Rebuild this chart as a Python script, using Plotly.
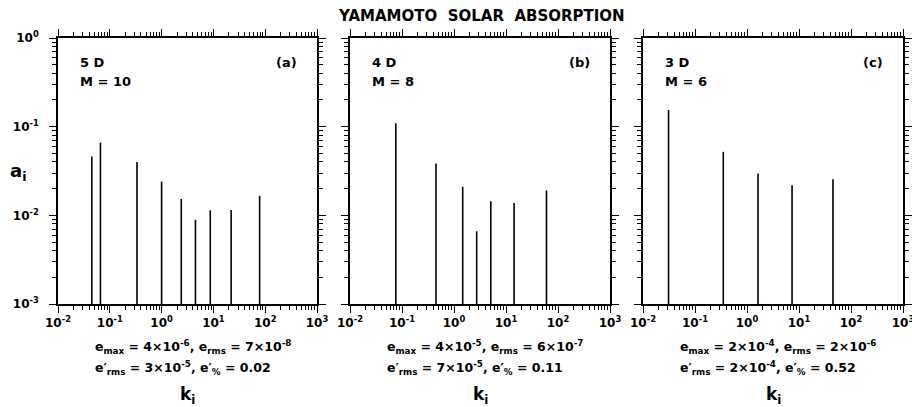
import plotly.graph_objects as go

# ---- data ----
k_a = [0.045, 0.066, 0.335, 1.0, 2.4, 4.5, 8.7, 22, 78]
a_a = [0.046, 0.066, 0.040, 0.024, 0.0153, 0.0089, 0.0114, 0.0115, 0.0166]
k_b = [0.076, 0.45, 1.47, 2.73, 5.1, 14.3, 60]
a_b = [0.109, 0.0385, 0.021, 0.0066, 0.0144, 0.0138, 0.0191]
k_c = [0.031, 0.35, 1.63, 7.35, 45]
a_c = [0.154, 0.052, 0.0297, 0.0218, 0.0255]

dims = ["5 D", "4 D", "3 D"]
m_labels = ["M = 10", "M = 8", "M = 6"]
tags = ["(a)", "(b)", "(c)"]
err_line1 = [
    "e<sub>max</sub> = 4×10<sup>-6</sup>, e<sub>rms</sub> = 7×10<sup>-8</sup>",
    "e<sub>max</sub> = 4×10<sup>-5</sup>, e<sub>rms</sub> = 6×10<sup>-7</sup>",
    "e<sub>max</sub> = 2×10<sup>-4</sup>, e<sub>rms</sub> = 2×10<sup>-6</sup>",
]
err_line2 = [
    "e′<sub>rms</sub> = 3×10<sup>-5</sup>, e′<sub>%</sub> = 0.02",
    "e′<sub>rms</sub> = 7×10<sup>-5</sup>, e′<sub>%</sub> = 0.11",
    "e′<sub>rms</sub> = 2×10<sup>-4</sup>, e′<sub>%</sub> = 0.52",
]
x_tick_vals = [1e-2, 1e-1, 1e0, 1e1, 1e2, 1e3]
x_tick_text = ["10<sup>-2</sup>", "10<sup>-1</sup>", "10<sup>0</sup>",
               "10<sup>1</sup>", "10<sup>2</sup>", "10<sup>3</sup>"]
y_tick_vals = [1e-3, 1e-2, 1e-1, 1e0]
y_tick_text = ["10<sup>-3</sup>", "10<sup>-2</sup>", "10<sup>-1</sup>", "10<sup>0</sup>"]
title_text = "YAMAMOTO  SOLAR  ABSORPTION"
y_base = 1e-3

series = [(k_a, a_a), (k_b, a_b), (k_c, a_c)]

W, H = 912, 407
x_doms = [(58, 317), (350, 610), (643, 903)]
y_top, y_bot = 38, 304

FONT = "DejaVu Sans"
fig = go.Figure()

for i, (ks, avals) in enumerate(series):
    xs, ys = [], []
    for k, a in zip(ks, avals):
        xs += [k, k, None]
        ys += [y_base, a, None]
    xa = "x" if i == 0 else f"x{i+1}"
    ya = "y" if i == 0 else f"y{i+1}"
    fig.add_trace(go.Scatter(x=xs, y=ys, mode="lines",
                             line=dict(color="black", width=1.6),
                             xaxis=xa, yaxis=ya, showlegend=False,
                             hoverinfo="skip"))
    x0, x1 = x_doms[i]
    axis_common = dict(type="log", showline=True, linecolor="black", linewidth=1.6,
                       mirror="allticks", ticks="outside", ticklen=7, tickwidth=1.3,
                       tickcolor="black", showgrid=False, zeroline=False,
                       automargin=False, ticklabeloverflow="allow",
                       minor=dict(dtick="D1", ticks="outside", ticklen=4, tickwidth=1,
                                  tickcolor="black", showgrid=False))
    xkey = "xaxis" if i == 0 else f"xaxis{i+1}"
    ykey = "yaxis" if i == 0 else f"yaxis{i+1}"
    fig.update_layout(**{
        xkey: dict(axis_common, domain=[x0 / W, x1 / W], range=[-2, 3],
                   anchor=ya, tickmode="array", tickvals=x_tick_vals,
                   ticktext=x_tick_text,
                   tickfont=dict(family=FONT, size=12, color="black", weight="bold")),
        ykey: dict(axis_common, domain=[1 - y_bot / H, 1 - y_top / H], range=[-3, 0],
                   anchor=xa, tickmode="array", tickvals=y_tick_vals,
                   ticktext=y_tick_text, showticklabels=(i == 0),
                   ticklabelstandoff=8,
                   tickfont=dict(family=FONT, size=12, color="black", weight="bold")),
    })
    cx = (x0 + x1) / 2
    txt_font = dict(family=FONT, size=13, color="black", weight="bold")
    fig.add_annotation(x=(x0 + 20) / W, y=1 - 62 / H, xref="paper", yref="paper",
                       text=dims[i], showarrow=False, xanchor="left", yanchor="middle",
                       font=txt_font)
    fig.add_annotation(x=(x0 + 20) / W, y=1 - 81 / H, xref="paper", yref="paper",
                       text=m_labels[i], showarrow=False, xanchor="left", yanchor="middle",
                       font=txt_font)
    fig.add_annotation(x=(x1 - 18) / W, y=1 - 62 / H, xref="paper", yref="paper",
                       text=tags[i], showarrow=False, xanchor="right", yanchor="middle",
                       font=txt_font)
    fig.add_annotation(x=(cx - 95) / W, y=1 - 347 / H, xref="paper", yref="paper",
                       text=err_line1[i], showarrow=False, xanchor="left", yanchor="middle",
                       font=dict(family=FONT, size=12.5, color="black", weight="bold"))
    fig.add_annotation(x=(cx - 95) / W, y=1 - 368 / H, xref="paper", yref="paper",
                       text=err_line2[i], showarrow=False, xanchor="left", yanchor="middle",
                       font=dict(family=FONT, size=12.5, color="black", weight="bold"))
    fig.add_annotation(x=cx / W, y=1 - 395 / H, xref="paper", yref="paper",
                       text="k<sub>i</sub>", showarrow=False, xanchor="center", yanchor="middle",
                       font=dict(family=FONT, size=17, color="black", weight="bold"))

fig.add_annotation(x=18 / W, y=1 - 172 / H, xref="paper", yref="paper",
                   text="a<sub>i</sub>", showarrow=False, xanchor="center", yanchor="middle",
                   font=dict(family=FONT, size=18, color="black", weight="bold"))
fig.add_annotation(x=481 / W, y=1 - 16 / H, xref="paper", yref="paper",
                   text=title_text, showarrow=False, xanchor="center", yanchor="middle",
                   font=dict(family=FONT, size=15, color="black", weight="bold"))

fig.update_layout(width=W, height=H, margin=dict(l=0, r=0, t=0, b=0, autoexpand=False),
                  paper_bgcolor="white", plot_bgcolor="white")
fig.write_html("out.html")
